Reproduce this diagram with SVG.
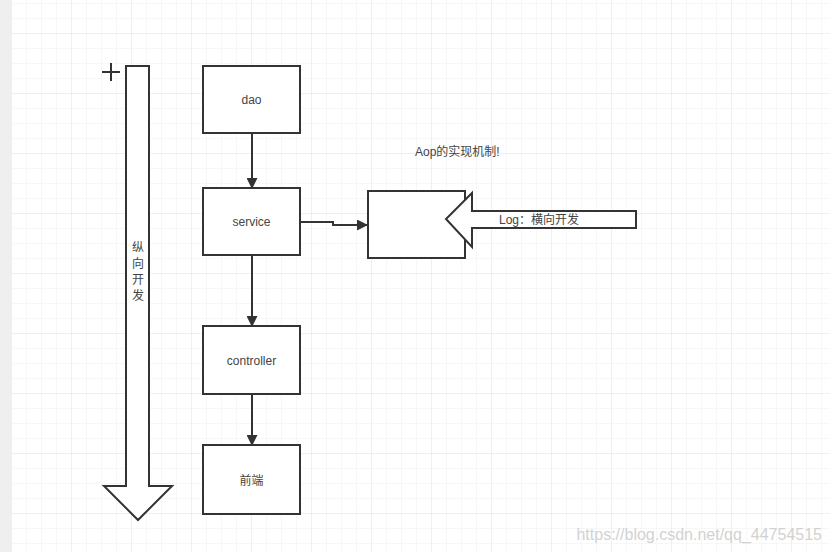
<svg xmlns="http://www.w3.org/2000/svg" width="830" height="552" viewBox="0 0 830 552">
<defs>
<pattern id="grid" x="11" y="3" width="15" height="15" patternUnits="userSpaceOnUse">
<path d="M0 0H15M0 0V15" fill="none" stroke="#f0f0f0" stroke-width="1"/>
</pattern>
<pattern id="grid2" x="11" y="33" width="60" height="60" patternUnits="userSpaceOnUse">
<path d="M0 0H60M0 0V60" fill="none" stroke="#e8e8e8" stroke-width="1"/>
</pattern>
<marker id="ah" markerWidth="11" markerHeight="11" refX="10" refY="5.5" orient="auto" markerUnits="userSpaceOnUse">
<path d="M0 0L11 5.5L0 11Z" fill="#333"/>
</marker>
</defs>
<style>
.box{fill:#fff;stroke:#333;stroke-width:2}
.line{fill:none;stroke:#333;stroke-width:2}
.t{font-family:"Liberation Sans","Noto Sans CJK SC",sans-serif;font-size:12px;fill:#444}
</style>
<rect width="830" height="552" fill="#fff"/>
<rect x="11" width="819" height="552" fill="url(#grid)"/>
<rect x="11" width="819" height="552" fill="url(#grid2)"/>
<rect width="11" height="552" fill="#efefef"/>
<g id="vertical-arrow">
<path class="box" d="M126 66H149V486H172L138 520L104 486H126Z" stroke-linejoin="miter"/>
<path class="line" d="M102 72H120M111 63V81" stroke-width="1.6"/>
<text class="t" x="138" y="252" text-anchor="middle">纵</text>
<text class="t" x="138" y="268" text-anchor="middle">向</text>
<text class="t" x="138" y="284" text-anchor="middle">开</text>
<text class="t" x="138" y="300" text-anchor="middle">发</text>
</g>
<g id="dao">
<rect class="box" x="203" y="66" width="97" height="67"/>
<text class="t" x="251.5" y="104" text-anchor="middle">dao</text>
</g>
<g id="service">
<rect class="box" x="203" y="188" width="97" height="67"/>
<text class="t" x="251.5" y="226" text-anchor="middle">service</text>
</g>
<g id="controller">
<rect class="box" x="203" y="326" width="97" height="68"/>
<text class="t" x="251.5" y="365" text-anchor="middle">controller</text>
</g>
<g id="frontend">
<rect class="box" x="203" y="445" width="97" height="69"/>
<text class="t" x="251.5" y="485" text-anchor="middle">前端</text>
</g>
<g id="aop-box">
<rect class="box" x="368" y="191" width="97" height="67"/>
</g>
<g id="log-arrow">
<path class="box" d="M636 211V228H472V247L446 219L472 193V211Z"/>
<text class="t" x="499" y="224">Log：横向开发</text>
</g>
<g id="aop-label">
<text class="t" x="415" y="156">Aop的实现机制!</text>
</g>
<g id="connectors">
<path class="line" d="M252 133V188" marker-end="url(#ah)"/>
<path class="line" d="M252 255V326" marker-end="url(#ah)"/>
<path class="line" d="M252 394V445" marker-end="url(#ah)"/>
<path class="line" d="M300 222H333V225H367" marker-end="url(#ah)"/>
</g>
<text x="822" y="540" text-anchor="end" font-family="Liberation Sans, sans-serif" font-size="16" fill="#d2d2d2">https://blog.csdn.net/qq_44754515</text>
</svg>
